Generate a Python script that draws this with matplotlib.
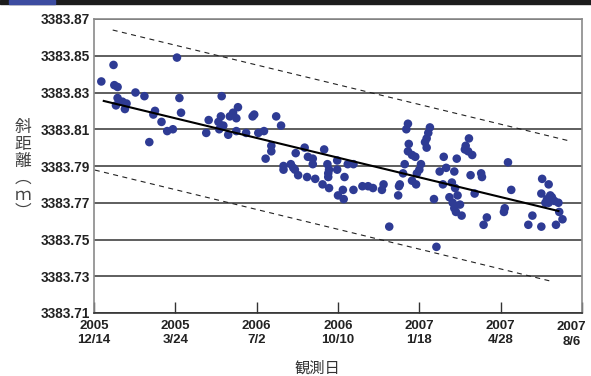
import matplotlib.pyplot as plt
from matplotlib.patches import Rectangle

# jours depuis le 2005/12/14 (graduation tous les 100 jours)
tick_days = [0, 100, 200, 300, 400, 500, 600]
tick_labels = ["2005\n12/14", "2005\n3/24", "2006\n7/2", "2006\n10/10",
               "2007\n1/18", "2007\n4/28", "2007\n8/6"]
y_ticks = [3383.71, 3383.73, 3383.75, 3383.77, 3383.79, 3383.81, 3383.83, 3383.85, 3383.87]

# mesures (jour, distance en m)
days = [9, 24, 25, 29, 29, 35, 40, 27, 38, 51, 62, 102, 105, 107, 75, 73, 83, 90, 97, 68,
        138, 141, 153, 156, 157, 154, 159, 165, 167, 171, 177, 175, 175, 187, 195, 197, 202, 209,
        224, 230, 218, 218, 211, 248, 233, 233, 242, 247, 251,
        259, 263, 269, 269, 283, 287, 289, 288, 299, 299, 312, 319, 262, 272, 281, 289, 308, 306,
        300, 307, 319, 330, 337, 343, 354, 356, 363, 375, 374, 288, 245,
        386, 384, 387, 386, 391, 395, 382, 380, 376, 391, 396, 402, 400, 397, 413, 411, 409, 407,
        409, 418, 421, 430, 425, 433, 429, 440, 443, 446, 437, 441, 443, 445, 450, 452, 444, 447,
        461, 457, 456, 460, 465, 463, 476, 477, 468, 483, 479,
        509, 513, 505, 504, 534, 539, 550, 551, 559, 550, 561, 555, 562, 566, 571, 572, 576, 568,
        557, 563, 559]
dist = [3383.836, 3383.845, 3383.834, 3383.833, 3383.827, 3383.825, 3383.824, 3383.823, 3383.821,
        3383.830, 3383.828, 3383.849, 3383.827, 3383.819, 3383.820, 3383.818, 3383.814, 3383.809,
        3383.810, 3383.803,
        3383.808, 3383.815, 3383.814, 3383.817, 3383.828, 3383.810, 3383.812, 3383.807, 3383.817,
        3383.819, 3383.822, 3383.816, 3383.809, 3383.808, 3383.817, 3383.818, 3383.808, 3383.809,
        3383.817, 3383.812, 3383.801, 3383.798, 3383.794, 3383.797, 3383.790, 3383.788, 3383.791,
        3383.788, 3383.785,
        3383.800, 3383.795, 3383.794, 3383.791, 3383.799, 3383.791, 3383.788, 3383.784, 3383.793,
        3383.788, 3383.791, 3383.791, 3383.784, 3383.783, 3383.780, 3383.778, 3383.784, 3383.777,
        3383.774, 3383.772, 3383.777, 3383.779, 3383.779, 3383.778, 3383.777, 3383.780, 3383.757,
        3383.779, 3383.774, 3383.786, 3383.789,
        3383.813, 3383.810, 3383.802, 3383.798, 3383.796, 3383.795, 3383.791, 3383.786, 3383.780,
        3383.782, 3383.780, 3383.791, 3383.788, 3383.786, 3383.811, 3383.808, 3383.805, 3383.803,
        3383.800, 3383.772, 3383.746, 3383.795, 3383.787, 3383.789, 3383.780, 3383.781, 3383.787,
        3383.794, 3383.773, 3383.770, 3383.767, 3383.765, 3383.769, 3383.763, 3383.778, 3383.774,
        3383.805, 3383.801, 3383.799, 3383.798, 3383.796, 3383.785, 3383.786, 3383.784, 3383.775,
        3383.762, 3383.758,
        3383.792, 3383.777, 3383.767, 3383.765, 3383.758, 3383.763, 3383.757, 3383.783, 3383.780,
        3383.775, 3383.774, 3383.770, 3383.772, 3383.771, 3383.770, 3383.765, 3383.761, 3383.758,
        3383.772, 3383.773, 3383.770]

# droite de tendance et bornes
trend_days = [12, 571]
trend_vals = [3383.8254, 3383.7655]
upper_days = [23, 585]
upper_vals = [3383.864, 3383.8036]
lower_days = [1, 561]
lower_vals = [3383.7878, 3383.7274]

W, H = 591, 376
fig = plt.figure(figsize=(W / 100, H / 100), dpi=100)
ax = fig.add_axes([94 / W, 1 - 313 / H, (582 - 94) / W, (313 - 19) / H])

# bandeau en haut
fig.patches.append(Rectangle((0, 1 - 4 / H), 1, 4 / H, transform=fig.transFigure,
                             color="#1c1c1c", zorder=0))
fig.patches.append(Rectangle((9 / W, 1 - 4 / H), 46 / W, 4 / H, transform=fig.transFigure,
                             color="#3c4ca0", zorder=1))

for yv in y_ticks:
    ax.axhline(yv, color="#333333", lw=1.1, zorder=1)

ax.scatter(days, dist, s=38, color="#2e3b94", edgecolors="none", zorder=3)
ax.plot(trend_days, trend_vals, color="black", lw=1.5, zorder=4)
ax.plot(upper_days, upper_vals, color="#222222", lw=0.8, ls=(0, (4.5, 4)), zorder=2)
ax.plot(lower_days, lower_vals, color="#222222", lw=0.8, ls=(0, (4.5, 4)), zorder=2)

tick_font = dict(fontfamily="Liberation Sans", fontweight="bold", fontsize=9.5, color="#222222")
ax.set_xlim(0, 600)
ax.set_ylim(3383.71, 3383.87)
ax.set_xticks(tick_days)
# le dernier libellé est placé à part, un peu à gauche du bord
ax.set_xticklabels(tick_labels[:-1] + [""], linespacing=1.25, **tick_font)
ax.annotate(tick_labels[-1], xy=(tick_days[-1], 0), xycoords=("data", "axes fraction"),
            xytext=(-7.5, -6), textcoords="offset points", ha="center", va="top",
            linespacing=1.25, **tick_font)
ax.set_yticks(y_ticks)
ax.set_yticklabels([f"{v:.2f}" for v in y_ticks], fontfamily="Liberation Sans",
                   fontweight="bold", fontsize=9.8, color="#222222")
ax.tick_params(axis="x", direction="in", length=8, width=1, color="#333333", pad=5)
ax.tick_params(axis="y", length=0, pad=3)

for side in ["left", "top", "right"]:
    ax.spines[side].set_color("#8a8a8a")
    ax.spines[side].set_linewidth(1.2)
ax.spines["bottom"].set_color("#333333")
ax.spines["bottom"].set_linewidth(1.2)

# titres des axes
fig.text(317 / W, 1 - 368 / H, "観測日", fontfamily=["Noto Sans CJK JP", "DejaVu Sans"],
         fontsize=11, color="#333333", ha="center", va="center")
# écriture verticale : un caractère par ligne
fig.text(23 / W, 1 - 170 / H, "\n".join("斜距離︵ｍ︶"),
         fontfamily=["Noto Sans CJK JP", "DejaVu Sans"], fontsize=12, color="#444444",
         ha="center", va="center", linespacing=1.0)

fig.savefig("out.png", dpi=100)
